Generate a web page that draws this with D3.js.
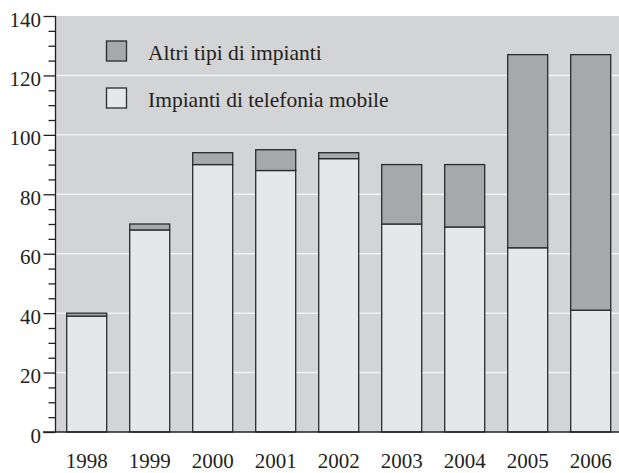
<!DOCTYPE html>
<html>
<head>
<meta charset="utf-8">
<script src="https://cdn.jsdelivr.net/npm/d3@7"></script>
<style>
html,body{margin:0;padding:0;background:#fff;}
svg{display:block;}
</style>
</head>
<body>
<svg id="chart" width="619" height="473"></svg>
<script>
const years = ["1998","1999","2000","2001","2002","2003","2004","2005","2006"];
const mobile = [39, 68, 90, 88, 92, 70, 69, 62, 41];
const others = [1, 2, 4, 7, 2, 20, 21, 65, 86];
const yTicks = [0, 20, 40, 60, 80, 100, 120, 140];
const seriesNames = ["Altri tipi di impianti", "Impianti di telefonia mobile"];

(function () {
const FONT = "'Liberation Serif', 'Times New Roman', serif";
const svg = d3.select("#chart");
const pL = 55.5, pR = 619, pT = 16, pB = 432;

const x = d3.scaleBand().domain(years).range([66.7, 610.7]).paddingInner(0.365).paddingOuter(0);
const y = d3.scaleLinear().domain([0, 140]).range([pB, pT]);

// background
svg.append("rect").attr("x", pL).attr("y", pT).attr("width", pR - pL).attr("height", pB - pT).attr("fill", "#d3d4d6");

// grid lines
svg.append("g").selectAll("line").data(yTicks.filter(d => d > 0 && d < 140)).join("line")
  .attr("x1", pL).attr("x2", pR).attr("y1", d => y(d)).attr("y2", d => y(d))
  .attr("stroke", "#f2f2f3").attr("stroke-width", 1.5);

const data = years.map((yr, i) => ({year: yr, mobile: mobile[i], other: others[i]}));

// bars
const g = svg.append("g");
g.selectAll("rect.m").data(data).join("rect").attr("class", "m")
  .attr("x", d => x(d.year)).attr("width", x.bandwidth())
  .attr("y", d => y(d.mobile)).attr("height", d => y(0) - y(d.mobile))
  .attr("fill", "#e6e7e9").attr("stroke", "#2b2b2d").attr("stroke-width", 1.3);
g.selectAll("rect.o").data(data).join("rect").attr("class", "o")
  .attr("x", d => x(d.year)).attr("width", x.bandwidth())
  .attr("y", d => y(d.mobile + d.other)).attr("height", d => y(d.mobile) - y(d.mobile + d.other))
  .attr("fill", "#a7a8ab").attr("stroke", "#2b2b2d").attr("stroke-width", 1.3);

// y axis
const yAxis = d3.axisLeft(y).tickValues(d3.range(0, 141, 5)).tickSize(7).tickFormat("");
const ya = svg.append("g").attr("transform", `translate(${pL},0)`).call(yAxis);
ya.select(".domain").remove();
ya.selectAll(".tick line").attr("stroke", "#231f20").attr("stroke-width", 1.3)
  .attr("x2", d => d % 20 === 0 ? -12 : -7);
svg.append("line").attr("x1", pL).attr("x2", pL).attr("y1", pT).attr("y2", pB)
  .attr("stroke", "#231f20").attr("stroke-width", 1.3);
svg.append("g").selectAll("text").data(yTicks).join("text")
  .attr("x", 41).attr("y", d => y(d) + 10.5).attr("text-anchor", "end")
  .style("font-family", FONT).style("font-size", "21px").attr("fill", "#231f20")
  .text(d => d);

// x axis line
svg.append("line").attr("x1", 43).attr("x2", pR).attr("y1", pB).attr("y2", pB)
  .attr("stroke", "#231f20").attr("stroke-width", 1.5);
svg.append("g").selectAll("text").data(years).join("text")
  .attr("x", d => x(d) + x.bandwidth() / 2).attr("y", 468).attr("text-anchor", "middle")
  .style("font-family", FONT).style("font-size", "21px").attr("fill", "#231f20")
  .text(d => d);

// legend
const legFills = ["#a7a8ab", "#e6e7e9"];
const lg = svg.append("g");
seriesNames.forEach((name, i) => {
  const yy = 41 + i * 47;
  lg.append("rect").attr("x", 106.5).attr("y", yy).attr("width", 20).attr("height", 20)
    .attr("fill", legFills[i]).attr("stroke", "#2b2b2d").attr("stroke-width", 1.3);
  lg.append("text").attr("x", 148).attr("y", yy + 18.5)
    .style("font-family", FONT).style("font-size", "21.5px").attr("fill", "#231f20")
    .text(name);
});
})();
</script>
</body>
</html>
